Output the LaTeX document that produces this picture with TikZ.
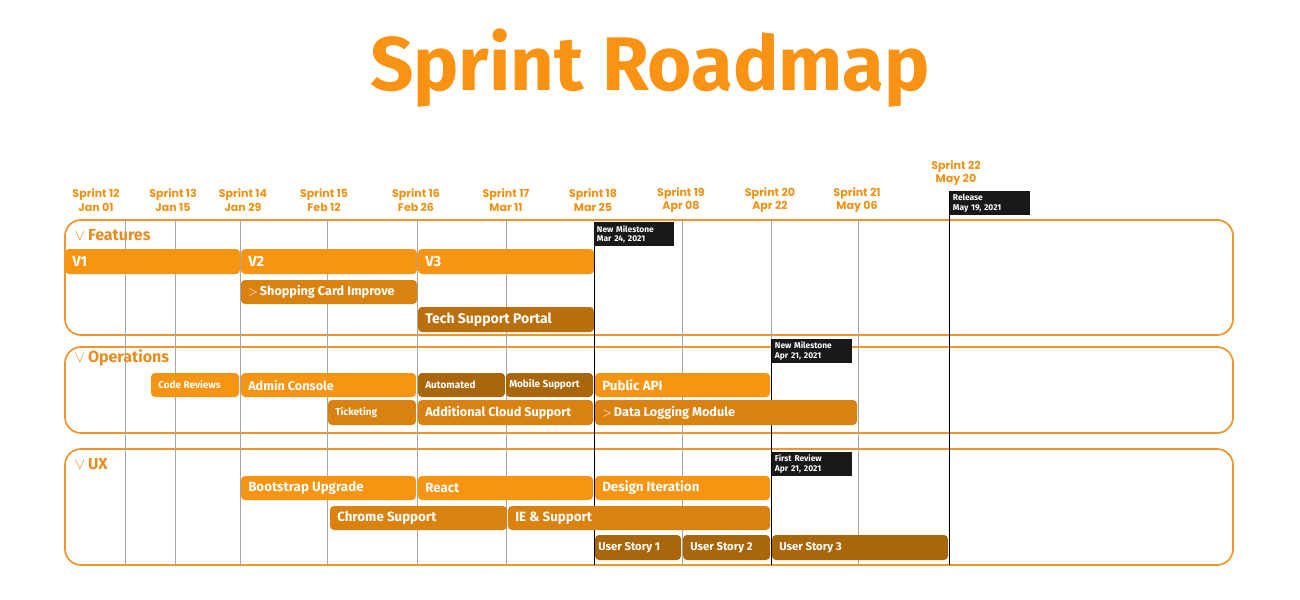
\documentclass[tikz,border=0pt]{standalone}
\usepackage{fontspec}
\setmainfont{Fira Sans}
\newfontfamily\pop{Poppins}
\begin{document}
\begin{tikzpicture}[x=0.75pt,y=-0.75pt,
  lt/.style={fill={rgb,255:red,247;green,148;blue,18}},
  md/.style={fill={rgb,255:red,218;green,130;blue,16}},
  dk/.style={fill={rgb,255:red,170;green,102;blue,10}},
  panel/.style={draw={rgb,255:red,240;green,150;blue,40},line width=1.3pt,rounded corners=12pt},
  hdr/.style={anchor=west,text={rgb,255:red,232;green,140;blue,30},font=\fontsize{12}{12}\selectfont\bfseries},
  spr/.style={text={rgb,255:red,240;green,145;blue,20},font=\pop\fontsize{8.3}{10}\selectfont\bfseries,align=center},
  ms/.style={fill=black!90,text=white,anchor=north west,inner sep=1.5pt,font=\fontsize{6.3}{7.2}\selectfont\bfseries,align=left,minimum width=60pt,minimum height=18pt,text width=56pt},
  gl/.style={draw=black!35,line width=0.5pt},
  bl/.style={draw=black,line width=0.6pt}]
\useasboundingbox (0,0) rectangle (1300,600);
\newcommand{\rbar}[8]{\path[#6] (#2,#4) [rounded corners=3pt] rectangle (#3,#5);
  \node[anchor=west,text=white,font=#8,inner sep=0pt] (#1) at (#2+7,{(#4+#5)/2}) {#7};}
\node[text={rgb,255:red,250;green,147;blue,20},font=\fontsize{57}{57}\selectfont\bfseries] (title) at (650,68) {Sprint Roadmap};
% panels
\draw[panel] (65,220) rectangle (1233,335);
\draw[panel] (65,347) rectangle (1233,433);
\draw[panel] (65,449) rectangle (1233,565);
% grid
\foreach \x in {125,175,240,327,417,506,682,858} \draw[gl] (\x,220) -- (\x,565);
\draw[gl] (771,220) -- (771,339);
\draw[bl] (594,222) -- (594,565);
\draw[bl] (771,339) -- (771,565);
\draw[bl] (949,191) -- (949,565);
% sprint labels
\foreach \x/\a/\b [count=\i] in {96/12/Jan 01,173/13/Jan 15,243/14/Jan 29,324/15/Feb 12,416/16/Feb 26,506/17/Mar 11,593/18/Mar 25,681/19/Apr 08,770/20/Apr 22,857/21/May 06}
  \node[spr] (s\i) at (\x,200) {Sprint \a\\\b};
\node[spr] (s11) at (956,173) {Sprint 22\\May 20};
% headers
\node[hdr] (h1) at (70,235) {$\vee$\,Features};
\node[hdr] (h2) at (70,358) {$\vee$\,Operations};
\node[hdr] (h3) at (70,464) {$\vee$\,UX};
\def\fb{\fontsize{11}{11}\selectfont\bfseries}
% features
\rbar{v1}{65}{240}{249}{274}{lt}{V1}{\fb}
\rbar{v2}{241}{417}{249}{274}{lt}{V2}{\fb}
\rbar{v3}{418}{594}{249}{274}{lt}{V3}{\fb}
\rbar{sc}{241}{417}{280}{304}{md}{$>$\,Shopping Card Improve}{\fontsize{9.5}{10}\selectfont\bfseries}
\rbar{tsp}{418}{594}{307}{332}{fill={rgb,255:red,185;green,111;blue,12}}{Tech Support Portal}{\fontsize{10.5}{11}\selectfont\bfseries}
% operations
\rbar{cr}{151}{239}{373}{397}{lt}{Code Reviews}{\fontsize{7.5}{8}\selectfont\bfseries}
\rbar{ac}{241}{416}{373}{397}{lt}{Admin Console}{\fontsize{9.5}{10}\selectfont\bfseries}
\rbar{au}{418}{505}{373}{397}{dk}{Automated}{\fontsize{7.5}{8}\selectfont\bfseries}
\rbar{mob}{506}{593}{373}{397}{dk}{\hspace*{-3pt}Mobile Support}{\fontsize{7.5}{8}\selectfont\bfseries}
\rbar{api}{595}{770}{373}{397}{lt}{Public API}{\fontsize{10}{10}\selectfont\bfseries}
\rbar{tk}{328}{416}{400}{425}{md}{Ticketing}{\fontsize{7.5}{8}\selectfont\bfseries}
\rbar{acs}{418}{593}{400}{425}{md}{Additional Cloud Support}{\fontsize{9.5}{10}\selectfont\bfseries}
\rbar{dlm}{595}{857}{400}{425}{md}{$>$\,Data Logging Module}{\fontsize{9.5}{10}\selectfont\bfseries}
% UX
\rbar{bu}{241}{416}{476}{500}{lt}{Bootstrap Upgrade}{\fontsize{10}{10}\selectfont\bfseries}
\rbar{re}{418}{593}{476}{500}{lt}{React}{\fontsize{10}{10}\selectfont\bfseries}
\rbar{di}{595}{770}{476}{500}{lt}{Design Iteration}{\fontsize{10}{10}\selectfont\bfseries}
\rbar{cs}{330}{507}{506}{530}{md}{Chrome Support}{\fontsize{10}{10}\selectfont\bfseries}
\rbar{ie}{508}{770}{506}{530}{md}{IE \& Support}{\fontsize{10}{10}\selectfont\bfseries}
\rbar{us1}{595}{681}{535}{560}{dk}{\hspace*{-3pt}User Story 1}{\fontsize{8.5}{9}\selectfont\bfseries}
\rbar{us2}{683}{770}{535}{560}{dk}{User Story 2}{\fontsize{8.5}{9}\selectfont\bfseries}
\rbar{us3}{772}{948}{535}{560}{dk}{User Story 3}{\fontsize{8.5}{9}\selectfont\bfseries}
% milestones
\node[ms] (m1) at (594,222) {New Milestone\\Mar 24, 2021};
\node[ms] (m2) at (950,191) {Release\\May 19, 2021};
\node[ms] (m3) at (772,339) {New Milestone\\Apr 21, 2021};
\node[ms] (m4) at (772,452) {First Review\\Apr 21, 2021};
\end{tikzpicture}
\end{document}
